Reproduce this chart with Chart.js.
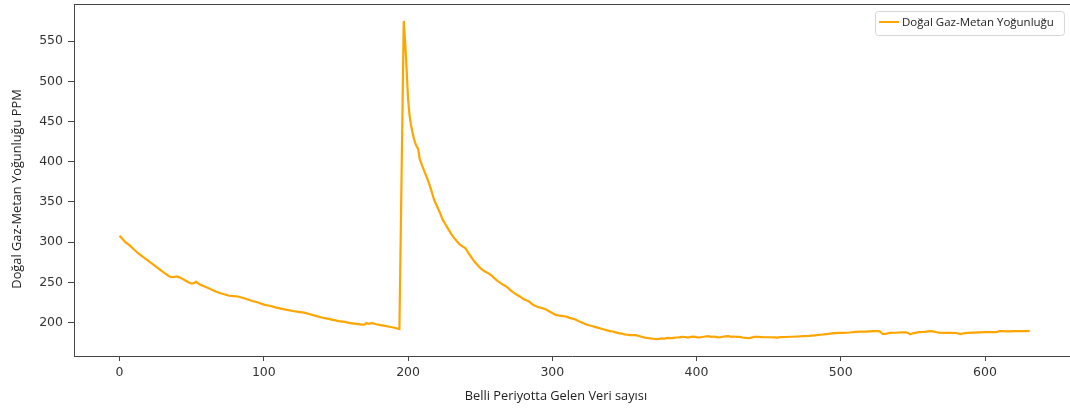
<!DOCTYPE html>
<html>
<head>
<meta charset="utf-8">
<script src="https://cdn.jsdelivr.net/npm/chart.js@4/dist/chart.umd.min.js"></script>
<style>
html,body{margin:0;padding:0;background:#fff;}
#wrap{width:1070px;height:412px;}
</style>
</head>
<body>
<div id="wrap"><canvas id="c" width="1070" height="412"></canvas></div>
<script>
// ---- data ----
const seriesLabel = "Doğal Gaz-Metan Yoğunluğu";
const xTitle = "Belli Periyotta Gelen Veri sayısı";
const yTitle = "Doğal Gaz-Metan Yoğunluğu PPM";

const sampleIndex = [
0,2,4,7,10,13,16,19,22,25,28,31,34,36,38,40,42,45,48,50,52,53,55,58,61,64,67,70,73,76,79,82,85,88,92,96,100,104,108,112,116,120,124,128,132,136,140,144,148,152,156,160,164,168,170,171,172,173,175,176,178,181,184,187,190,193,194,
197,198,199,200,201,202,203,204,205,206,207,208,209,210,212,214,216,218,220,222,224,226,228,230,232,234,236,238,239,240,242,244,246,248,250,252,254,256,258,260,262,264,266,268,270,272,274,276,278,280,282,284,286,288,290,292,294,296,298,300,302,304,306,308,310,312,314,316,318,320,322,324,326,328,330,332,334,336,338,340,342,344,346,348,350,352,354,356,358,360,362,364,366,368,370,372,374,376,378,380,382,384,386,388,390,392,394,396,398,400,402,404,406,408,410,412,414,416,418,420,422,424,426,428,430,432,434,436,438,440,442,446,450,454,456,458,462,466,470,474,478,482,486,490,494,498,502,506,510,514,518,522,525,527,529,531,534,538,542,545,547,548,550,554,558,562,564,568,572,576,580,583,585,588,592,596,600,604,608,610,612,616,620,624,628,631];

const gasPPM = [
308,304,300,296,291,286,282,278,274,270,266,262,258,256.5,257,257.5,256,253,250,248.5,249.5,251,248,245.5,243.5,241,238.5,236.5,235,233.5,233,232.5,231,229.5,227,225,222.5,221,219,217.5,216,214.5,213.5,212.5,210.5,208.5,206.5,205,203.5,202,201,199.5,198.5,197.5,197.8,199.5,199,198.5,199.8,199,198,197,196,195,194,192.5,192,
575,548,515,478,458,446,437,429,423,419,416,404,399,394,385,376,365,353,345,337,328,322,316,310,305,301,297,294.5,293.5,292,286,281,276,272,268,265,263,261,258.5,255,252,249.5,247,245,242,239,236.5,234,232,229.5,228,226,223,221,219.5,218.5,217.5,216,214,212,210,209,208.5,208,207.5,206,205,204,202,200.5,199,197.5,196.5,195.5,194.5,193.5,192.5,191.5,190.5,189.5,189,188,187,186.5,185.5,185,184.5,184.5,184.5,183.5,182.5,181.5,181,180.5,180,179.5,179.8,180.5,180.2,181,180.8,181.2,181.6,181.8,182.3,182.2,181.5,182.3,182.6,182,181.6,182.2,182.8,183.2,182.4,182.8,182,181.6,182.5,182.9,183.2,182.5,182.8,182.3,182.3,181.6,181,180.7,181.5,182.3,182.3,182,181.9,181.7,181.4,182,182.2,182.5,182.8,183.2,183.6,184.3,185,185.8,186.6,187.3,187.4,187.8,188.6,188.8,189,189.4,189.6,189.2,186,186.2,187.3,187.5,188,188.1,187,185.7,186.8,188.2,188.6,189.4,189.2,187.5,187.3,187.3,187.2,185.8,186.8,187.3,187.6,188,188.2,188.3,188.2,189.6,189.5,189.1,189.4,189.5,189.6,189.8];

const xTickValues = [0,100,200,300,400,500,600];
const yTickValues = [200,250,300,350,400,450,500,550];

// ---- chart ----
const points = sampleIndex.map((x, i) => ({x: x, y: gasPPM[i]}));
const axisColor = '#444';
const tickFont = {family: 'DejaVu Sans', size: 12.5};
const labelFont = '12.8px "Open Sans"';
const lineColor = '#FFA500';

const decor = {
  id: 'decor',
  afterDraw(chart) {
    const ctx = chart.ctx, a = chart.chartArea;
    ctx.save();
    // top spine
    ctx.strokeStyle = axisColor; ctx.lineWidth = 1;
    ctx.beginPath(); ctx.moveTo(a.left, a.top + 0.5); ctx.lineTo(a.right, a.top + 0.5); ctx.stroke();
    // axis titles
    ctx.fillStyle = '#222';
    ctx.font = labelFont;
    ctx.textAlign = 'center'; ctx.textBaseline = 'middle';
    ctx.fillText(xTitle, 556, 396);
    ctx.save();
    ctx.translate(17, 189);
    ctx.rotate(-Math.PI / 2);
    ctx.fillText(yTitle, 0, 0);
    ctx.restore();
    // legend
    ctx.font = '11.5px "Open Sans"';
    const tw = ctx.measureText(seriesLabel).width;
    const bx = 875, by = 11, bh = 24, bw = 27 + tw + 10;
    ctx.fillStyle = 'rgba(255,255,255,0.85)';
    ctx.strokeStyle = '#d6d6d6'; ctx.lineWidth = 1;
    ctx.beginPath();
    if (ctx.roundRect) ctx.roundRect(bx + 0.5, by + 0.5, bw, bh, 3); else ctx.rect(bx + 0.5, by + 0.5, bw, bh);
    ctx.fill(); ctx.stroke();
    ctx.strokeStyle = lineColor; ctx.lineWidth = 2;
    ctx.beginPath(); ctx.moveTo(bx + 4, by + 11); ctx.lineTo(bx + 24, by + 11); ctx.stroke();
    ctx.fillStyle = '#222'; ctx.textAlign = 'left'; ctx.textBaseline = 'middle';
    ctx.fillText(seriesLabel, bx + 27, by + 12);
    ctx.restore();
  }
};

new Chart(document.getElementById('c'), {
  type: 'line',
  data: {
    datasets: [{
      label: seriesLabel,
      data: points,
      borderColor: lineColor,
      backgroundColor: lineColor,
      borderWidth: 2.2,
      pointRadius: 0,
      tension: 0,
      fill: false
    }]
  },
  options: {
    responsive: false,
    animation: false,
    devicePixelRatio: 1,
    layout: {padding: {top: 4, right: 0, left: 0, bottom: 0}},
    plugins: {legend: {display: false}, tooltip: {enabled: false}},
    scales: {
      x: {
        type: 'linear',
        min: -31.6,
        max: 658.9,
        afterBuildTicks: s => { s.ticks = xTickValues.map(v => ({value: v})); },
        afterFit: s => { s.height = 56; s.paddingLeft = 0; s.paddingRight = 0; },
        grid: {drawOnChartArea: false, drawTicks: true, tickLength: 5, color: axisColor},
        border: {display: true, color: axisColor, width: 1},
        ticks: {color: '#333', font: tickFont, padding: 4, maxRotation: 0, autoSkip: false}
      },
      y: {
        type: 'linear',
        min: 158.6,
        max: 596,
        afterBuildTicks: s => { s.ticks = yTickValues.map(v => ({value: v})); },
        afterFit: s => { s.width = 74; s.paddingTop = 0; s.paddingBottom = 0; },
        grid: {drawOnChartArea: false, drawTicks: true, tickLength: 6, color: axisColor},
        border: {display: true, color: axisColor, width: 1},
        ticks: {color: '#333', font: tickFont, padding: 5, autoSkip: false}
      }
    }
  },
  plugins: [decor]
});
</script>
</body>
</html>
